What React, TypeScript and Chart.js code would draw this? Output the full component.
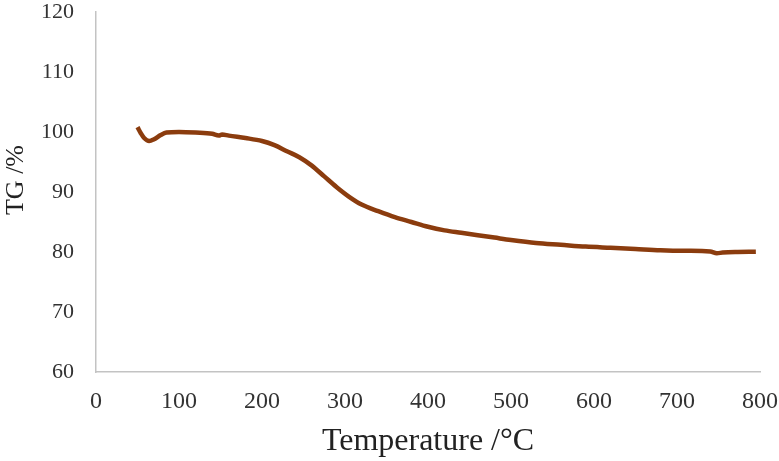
import React, { useEffect, useRef } from "react";
import { Chart, registerables } from "chart.js";

Chart.register(...registerables);

// Thermogravimetric curve: temperature (°C) against remaining mass (%)
const temperature = [
  50, 54, 58, 64, 70, 78, 85, 100, 120, 140, 148, 152, 160, 180, 200, 215,
  230, 245, 260, 275, 290, 305, 320, 340, 360, 380, 400, 420, 440, 460, 480,
  500, 530, 560, 590, 620, 650, 680, 710, 740, 748, 755, 770, 795,
];
const tgPercent = [
  100.8, 99.8, 99.0, 98.5, 98.8, 99.5, 99.9, 100.0, 99.9, 99.7, 99.4, 99.6,
  99.4, 99.0, 98.5, 97.8, 96.8, 95.8, 94.4, 92.6, 90.8, 89.2, 87.9, 86.8,
  85.8, 85.0, 84.2, 83.6, 83.2, 82.8, 82.4, 82.0, 81.5, 81.2, 80.9, 80.7,
  80.5, 80.3, 80.2, 80.1, 79.8, 79.9, 80.0, 80.05,
];

const xTicks = [0, 100, 200, 300, 400, 500, 600, 700, 800];
const yTicks = [60, 70, 80, 90, 100, 110, 120];

const xTitle = "Temperature /°C";
const yTitle = "TG /%";

const FONT = "'Liberation Serif', 'Times New Roman', serif";
const AXIS_COLOR = "#c3c3c3";
const NO_COLOR = "rgba(0,0,0,0)";

// Draws the vertical axis title a little above the plot's vertical centre.
const yTitlePlugin = {
  id: "yTitle",
  afterDraw(chart: any) {
    const { ctx, chartArea } = chart;
    const cy = (chartArea.top + chartArea.bottom) / 2 - 12;
    ctx.save();
    ctx.translate(16, cy);
    ctx.rotate(-Math.PI / 2);
    ctx.font = `26px ${FONT}`;
    ctx.fillStyle = "#222222";
    ctx.textAlign = "center";
    ctx.textBaseline = "middle";
    ctx.fillText(yTitle, 0, 0);
    ctx.restore();
  },
};

export default function App() {
  const canvasRef = useRef<HTMLCanvasElement | null>(null);

  useEffect(() => {
    const canvas = canvasRef.current;
    if (!canvas) return;

    const points = temperature.map((t, i) => ({ x: t, y: tgPercent[i] }));

    const chart = new Chart(canvas, {
      type: "line",
      data: {
        datasets: [
          {
            data: points,
            borderColor: "#8b3c0e",
            borderWidth: 4.5,
            pointRadius: 0,
            tension: 0.35,
            cubicInterpolationMode: "monotone",
            fill: false,
          },
        ],
      },
      options: {
        responsive: false,
        animation: false,
        layout: {
          padding: { left: 0, right: 19, top: 12, bottom: 0 },
        },
        plugins: {
          legend: { display: false },
          tooltip: { enabled: false },
        },
        scales: {
          x: {
            type: "linear",
            min: xTicks[0],
            max: xTicks[xTicks.length - 1],
            afterBuildTicks: (scale: any) => {
              scale.ticks = xTicks.map((v) => ({ value: v }));
            },
            afterFit: (scale: any) => {
              scale.height = 89;
            },
            grid: {
              display: true,
              drawOnChartArea: false,
              drawTicks: true,
              tickLength: 15,
              tickColor: NO_COLOR,
            },
            border: { display: true, color: AXIS_COLOR, width: 1.5 },
            ticks: {
              padding: 0,
              color: "#333333",
              font: { family: FONT, size: 24, lineHeight: 1.2 },
            },
            title: {
              display: true,
              text: xTitle,
              color: "#222222",
              padding: { top: 0, bottom: 0 },
              font: { family: FONT, size: 32, lineHeight: 1.2 },
            },
          },
          y: {
            type: "linear",
            min: yTicks[0],
            max: yTicks[yTicks.length - 1],
            afterBuildTicks: (scale: any) => {
              scale.ticks = yTicks.map((v) => ({ value: v }));
            },
            afterFit: (scale: any) => {
              scale.width = 96;
            },
            grid: {
              display: true,
              drawOnChartArea: false,
              drawTicks: true,
              tickLength: 22,
              tickColor: NO_COLOR,
            },
            border: { display: true, color: AXIS_COLOR, width: 1.5 },
            ticks: {
              padding: 0,
              color: "#333333",
              font: { family: FONT, size: 22, lineHeight: 1.0 },
            },
            title: { display: false },
          },
        },
      },
      plugins: [yTitlePlugin],
    });

    return () => chart.destroy();
  }, []);

  return (
    <div
      style={{
        position: "fixed",
        left: 0,
        top: 0,
        width: 779,
        height: 461,
        background: "#ffffff",
      }}
    >
      <canvas
        ref={canvasRef}
        width={779}
        height={461}
        style={{ display: "block", width: 779, height: 461 }}
      />
    </div>
  );
}
